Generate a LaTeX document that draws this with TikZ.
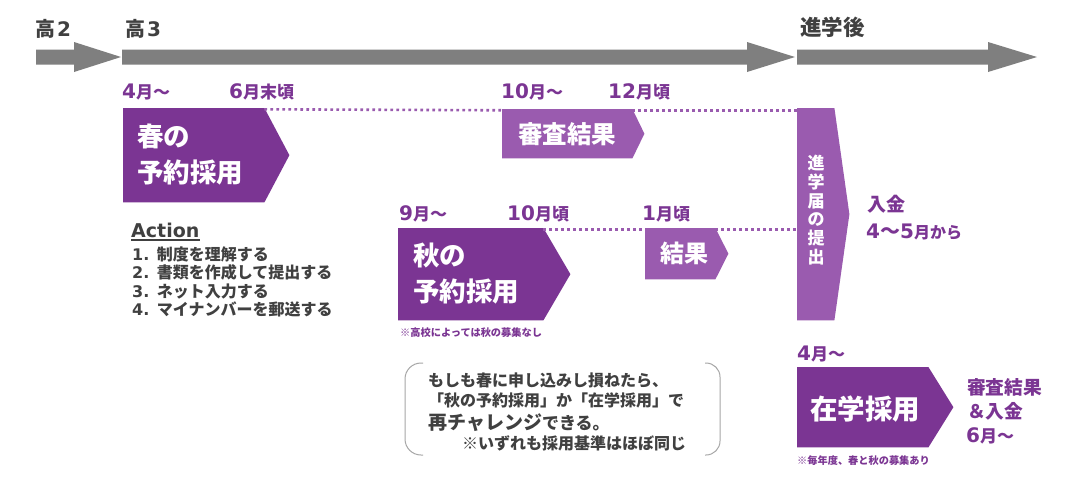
\documentclass[tikz,border=0pt]{standalone}
\usepackage{fontspec}
\setmainfont{Noto Sans CJK JP}
\newfontfamily\latfont{DejaVu Sans}
\usetikzlibrary{calc}
\definecolor{plum}{HTML}{7B3593}
\definecolor{lilac}{HTML}{9A5BAF}
\definecolor{bargray}{HTML}{7F7F7F}
\definecolor{inkgray}{HTML}{404040}
\definecolor{rimgray}{HTML}{A6A6A6}
\def\dgt#1{{\latfont\bfseries\fontsize{20}{20}\selectfont #1}}
\def\timebar(#1,#2,#3){
  \fill[bargray] (#1,49.5) -- (#2,49.5) -- (#2,42) -- (#3,57) -- (#2,72) -- (#2,64.5) -- (#1,64.5) -- cycle;
}
\def\stagebox(#1,#2,#3,#4,#5,#6,#7){
  \node[minimum width=#4pt, minimum height=#5pt, inner sep=0pt, anchor=north west] (#1) at (#2,#3) {};
  \fill[#7] (#1.north west) -- (#1.north east) -- ($(#1.east)+(#6,0)$) -- (#1.south east) -- (#1.south west) -- cycle;
}
\def\monthlab(#1,#2,#3,#4,#5){
  \node[monthtxt] (#1) at (#2,#3) {\dgt{#4}{\fontsize{17}{17}\selectfont #5}};
}
\begin{document}
\begin{tikzpicture}[x=1pt, y=-1pt,
  bartxt/.style={text=inkgray, font=\fontsize{20}{20}\selectfont\bfseries, inner sep=0pt, anchor=base west},
  monthtxt/.style={text=plum, font=\bfseries, inner sep=0pt, anchor=base west},
  boxtxt/.style={text=white, font=\fontsize{26.5}{36}\selectfont\bfseries, inner sep=0pt, align=left},
  dotline/.style={draw=lilac, line width=2.6pt, dash pattern=on 2.6pt off 3.4pt},
  listtxt/.style={text=inkgray, font=\fontsize{16}{16}\selectfont\bfseries, inner sep=0pt, anchor=base west},
  notetxt/.style={text=plum, font=\fontsize{10.2}{10.2}\selectfont\bfseries, inner sep=0pt, anchor=base west},
  paytxt/.style={text=plum, font=\fontsize{19}{19}\selectfont\bfseries, inner sep=0pt, anchor=base west}]
\fill[white] (0,0) rectangle (1080,480);
\useasboundingbox (0,0) rectangle (1080,480);
% timeline
\timebar(36,74,121)
\timebar(122,747,795)
\timebar(797,988,1037)
\node[bartxt] (ko2) at (35,36) {高\kern2pt\dgt{2}};
\node[bartxt] (ko3) at (125,36) {高\kern2pt\dgt{3}};
\node[bartxt, font=\fontsize{21.5}{21.5}\selectfont\bfseries] (after) at (800,35) {進学後};
% spring
\monthlab(m4,122,98,4,月～)
\monthlab(m6,229,98,6,月末頃)
\monthlab(m10,501,98,10,月～)
\monthlab(m12,608,98,12,月頃)
\stagebox(spring,123,108,141,94,25,plum)
\node[boxtxt, anchor=west] (springtxt) at (137,155) {春の\\予約採用};
\stagebox(review,502,109,130,49,12,lilac)
\node[boxtxt, font=\fontsize{24.5}{24.5}\selectfont\bfseries] (reviewtxt) at (567,134) {審査結果};
\stagebox(shingaku,797,108,37,212,15,lilac)
\node[text=white, font=\fontsize{17}{18.7}\selectfont\bfseries, align=center, inner sep=0pt] (shingakutxt) at (816,210) {進\\学\\届\\の\\提\\出};
\draw[dotline] ([yshift=-1.3pt]spring.north east) -- ([yshift=-1.3pt]review.north west);
\draw[dotline] ([yshift=-1.3pt]review.north east) -- ([yshift=-1.3pt]shingaku.west |- review.north east);
% action
\node[listtxt, font=\latfont\bfseries\fontsize{19}{19}\selectfont] (acthead) at (131,237) {Action};
\draw[inkgray, line width=1.4pt] ([yshift=-3pt]acthead.base west) -- ([yshift=-3pt]acthead.base east);
\node[listtxt] (act1) at (132,260) {{\latfont 1. }制度を理解する};
\node[listtxt] (act2) at (132,278.5) {{\latfont 2. }書類を作成して提出する};
\node[listtxt] (act3) at (132,297) {{\latfont 3. }ネット入力する};
\node[listtxt] (act4) at (132,315.5) {{\latfont 4. }マイナンバーを郵送する};
% autumn
\monthlab(m9,399,220,9,月～)
\monthlab(m10b,507,220,10,月頃)
\monthlab(m1,642,220,1,月頃)
\stagebox(autumn,398,228,145,92,27,plum)
\node[boxtxt, anchor=west] (autumntxt) at (413,274) {秋の\\予約採用};
\node[notetxt] (autumnnote) at (400,336) {※高校によっては秋の募集なし};
\stagebox(result,645,228,70,51,13,lilac)
\node[boxtxt, font=\fontsize{24}{24}\selectfont\bfseries] (resulttxt) at (684,253) {結果};
\draw[dotline] ([yshift=-1.3pt]autumn.north east) -- ([yshift=-1.3pt]result.north west);
\draw[dotline] ([yshift=-1.3pt]result.north east) -- ([yshift=-1.3pt]shingaku.west |- result.north east);
% payment
\node[paytxt] (pay) at (867,211) {入金};
\node[paytxt, font=\fontsize{16}{16}\selectfont\bfseries] (paytime) at (866,238) {\dgt{4}{\fontsize{20}{20}\selectfont ～}\dgt{5}月から};
% second chance
\draw[rimgray, line width=1pt, rounded corners=16pt] (423,363) -- (405,363) -- (405,455) -- (423,455);
\draw[rimgray, line width=1pt, rounded corners=14pt] (705,363) -- (720,363) -- (720,455) -- (705,455);
\node[listtxt] (chance1) at (428,386) {もしも春に申し込みし損ねたら、};
\node[listtxt] (chance2) at (428,406) {「秋の予約採用」か「在学採用」で};
\node[listtxt, font=\fontsize{17}{17}\selectfont\bfseries] (chance3) at (428,429) {{\fontsize{19}{19}\selectfont 再チャレンジ}できる。};
\node[listtxt] (chance4) at (462,449) {※いずれも採用基準はほぼ同じ};
% enrolled
\monthlab(m4b,797,360,4,月～)
\stagebox(zaigaku,797,367,131,80,25,plum)
\node[boxtxt, font=\fontsize{27.5}{27.5}\selectfont\bfseries] (zaigakutxt) at (865,409) {在学採用};
\node[notetxt] (zaigakunote) at (797,464) {※毎年度、春と秋の募集あり};
\node[paytxt, font=\fontsize{18.7}{18.7}\selectfont\bfseries] (zres1) at (967,394) {審査結果};
\node[paytxt, font=\fontsize{18.7}{18.7}\selectfont\bfseries] (zres2) at (967,418) {＆入金};
\monthlab(zres3,966,442,6,月～)
\end{tikzpicture}
\end{document}
